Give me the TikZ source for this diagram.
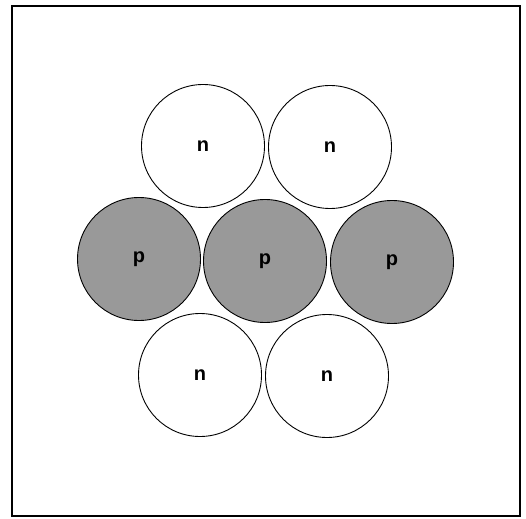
\documentclass[tikz,border=0pt]{standalone}
\usepackage{fontspec}
\setsansfont{Liberation Sans}

\begin{document}
\begin{tikzpicture}[x=1pt, y=-1pt, thick]
	% Stile dei nucleoni
	\tikzset{neutrone/.style={circle, draw, line width=0.9pt, minimum size=123pt, inner sep=0pt, font=\sffamily\bfseries\fontsize{20}{22}\selectfont},
		protone/.style={neutrone, fill=black!40}}
	\useasboundingbox (0,0) rectangle (526,518);
	
	% Cornice
	\draw[line width=1.2pt] (12,6) rectangle (520,516);
	
	% Neutroni in alto
	\node[neutrone] (N1) at (203,146) {n};
	\node[neutrone] (N2) at (330,147) {n};
	
	% Protoni al centro
	\node[protone] (P1) at (139,259) {p};
	\node[protone] (P2) at (265,261) {p};
	\node[protone] (P3) at (392,262) {p};
	
	% Neutroni in basso
	\node[neutrone] (N3) at (200,375) {n};
	\node[neutrone] (N4) at (327,376) {n};
	
\end{tikzpicture}
\end{document}
